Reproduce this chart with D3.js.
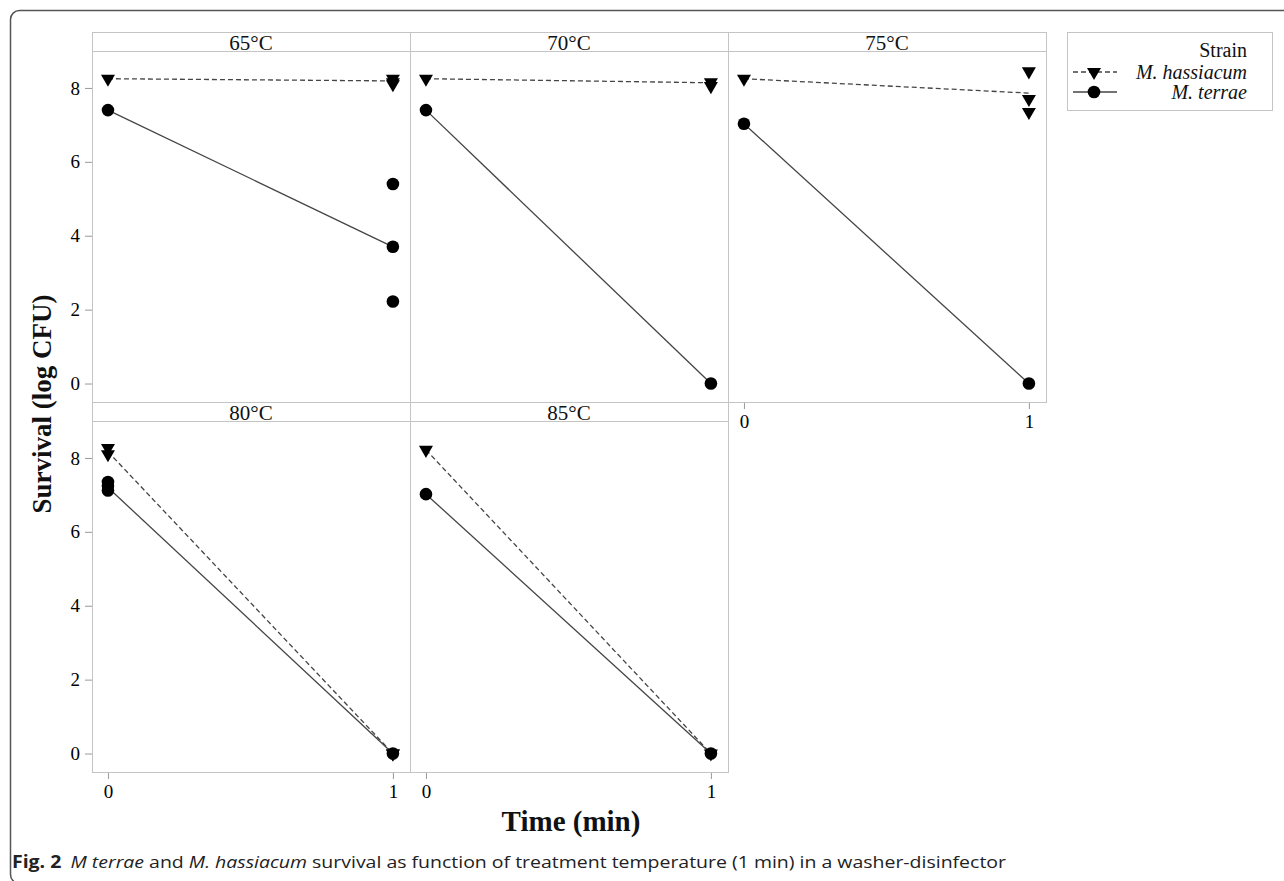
<!DOCTYPE html>
<html>
<head>
<meta charset="utf-8">
<script src="https://cdn.jsdelivr.net/npm/d3@7"></script>
<style>
  html, body { margin: 0; padding: 0; background: #fff; }
  svg { display: block; }
</style>
</head>
<body>
<svg id="chart" width="1284" height="881"></svg>
<script>
// ---------- data ----------
const temperatures = ["65°C", "70°C", "75°C", "80°C", "85°C"];
const times = [0, 1];
const yTicks = [0, 2, 4, 6, 8];
const xTicks = [0, 1];
const strains = ["M. hassiacum", "M. terrae"];

// individual observations per temperature: [time, value]
const hassiacumPoints = [
  [[0, 8.25], [1, 8.25], [1, 8.15], [1, 8.1]],           // 65
  [[0, 8.25], [1, 8.15], [1, 8.05]],                     // 70
  [[0, 8.25], [1, 8.45], [1, 7.7], [1, 7.35]],           // 75
  [[0, 8.27], [0, 8.1], [1, 0], [1, 0]],                 // 80
  [[0, 8.22], [1, 0]]                                    // 85
];
const terraePoints = [
  [[0, 7.4], [1, 5.4], [1, 3.7], [1, 2.22]],             // 65
  [[0, 7.4], [1, 0]],                                    // 70
  [[0, 7.03], [1, 0]],                                   // 75
  [[0, 7.35], [0, 7.25], [0, 7.12], [1, 0]],             // 80
  [[0, 7.02], [1, 0]]                                    // 85
];
// connecting line values (t=0, t=1) per temperature
const hassiacumLine = [[8.25, 8.19], [8.25, 8.14], [8.25, 7.86], [8.17, 0], [8.22, 0]];
const terraeLine = [[7.4, 3.7], [7.4, 0], [7.03, 0], [7.2, 0], [7.02, 0]];

// ---------- layout ----------
const svg = d3.select("#chart");
const font = "'Liberation Serif', 'Times New Roman', serif";
const panelLeft0 = 92, panelW = 318, stripH = 19, plotH = 351;
const rowTops = [32, 402];
const gridColor = "#c4c4c4";
const ink = "#111";

// outer frame
svg.append("rect")
  .attr("x", 10.5).attr("y", 10.5).attr("width", 1320).attr("height", 873)
  .attr("rx", 9).attr("fill", "none").attr("stroke", "#555").attr("stroke-width", 1.5);

const triangle = d3.symbol().type(d3.symbolTriangle).size(85);

temperatures.forEach((temp, i) => {
  const col = i % 3, row = Math.floor(i / 3);
  const left = panelLeft0 + col * panelW;
  const stripTop = rowTops[row];
  const top = stripTop + stripH;
  const bottom = top + plotH;

  const x = d3.scaleLinear().domain([-0.056, 1.06]).range([left, left + panelW]);
  const y = d3.scaleLinear().domain([-0.5, 9]).range([bottom, top]);

  const g = svg.append("g");

  // strip
  g.append("rect").attr("x", left + 0.5).attr("y", stripTop + 0.5)
    .attr("width", panelW).attr("height", stripH)
    .attr("fill", "#fff").attr("stroke", gridColor);
  g.append("text").attr("x", left + panelW / 2).attr("y", stripTop + 18)
    .attr("text-anchor", "middle").attr("font-family", font).attr("font-size", 21)
    .attr("fill", ink).text(temp);

  // panel border
  g.append("rect").attr("x", left + 0.5).attr("y", top + 0.5)
    .attr("width", panelW).attr("height", plotH)
    .attr("fill", "none").attr("stroke", gridColor);

  // y axis (left column only)
  if (col === 0) {
    const ya = g.append("g").attr("transform", `translate(${left},0)`)
      .call(d3.axisLeft(y).tickValues(yTicks).tickSize(7).tickPadding(5).tickFormat(d3.format("d")));
    ya.select(".domain").remove();
    ya.selectAll("line").attr("stroke", "#999");
    ya.selectAll("text").attr("font-family", font).attr("font-size", 19).attr("fill", "#000");
  }
  // x axis (bottom of each column)
  if (row === 1 || col === 2) {
    const xa = g.append("g").attr("transform", `translate(0,${bottom + 1})`)
      .call(d3.axisBottom(x).tickValues(xTicks).tickSize(6).tickPadding(6).tickFormat(d3.format("d")));
    xa.select(".domain").remove();
    xa.selectAll("line").attr("stroke", "#999");
    xa.selectAll("text").attr("font-family", font).attr("font-size", 19).attr("fill", "#000");
  }

  // lines
  const line = d3.line().x((d, k) => x(times[k])).y(d => y(d));
  g.append("path").datum(hassiacumLine[i]).attr("d", line)
    .attr("fill", "none").attr("stroke", "#444").attr("stroke-width", 1.3)
    .attr("stroke-dasharray", "5,3");
  g.append("path").datum(terraeLine[i]).attr("d", line)
    .attr("fill", "none").attr("stroke", "#444").attr("stroke-width", 1.3);

  // points
  g.selectAll(".tri").data(hassiacumPoints[i]).join("path")
    .attr("transform", d => `translate(${x(d[0])},${y(d[1])}) rotate(180)`)
    .attr("d", triangle).attr("fill", "#000");
  g.selectAll(".dot").data(terraePoints[i]).join("circle")
    .attr("cx", d => x(d[0])).attr("cy", d => y(d[1])).attr("r", 6.3).attr("fill", "#000");
});

// axis titles
svg.append("text")
  .attr("transform", "translate(51,404) rotate(-90)")
  .attr("text-anchor", "middle").attr("font-family", font).attr("font-weight", "bold")
  .attr("font-size", 27).attr("fill", ink).text("Survival (log CFU)");
svg.append("text")
  .attr("x", 571).attr("y", 831)
  .attr("text-anchor", "middle").attr("font-family", font).attr("font-weight", "bold")
  .attr("font-size", 29).attr("fill", ink).text("Time (min)");

// legend
const lg = svg.append("g");
lg.append("rect").attr("x", 1067.5).attr("y", 32.5).attr("width", 205).attr("height", 78)
  .attr("fill", "#fff").attr("stroke", gridColor);
lg.append("text").attr("x", 1247).attr("y", 57).attr("text-anchor", "end")
  .attr("font-family", font).attr("font-size", 20).attr("fill", ink).text("Strain");
const legendRows = [{ y: 72, dash: "5,3" }, { y: 92, dash: null }];
legendRows.forEach((r, k) => {
  const p = lg.append("line").attr("x1", 1073).attr("x2", 1117).attr("y1", r.y).attr("y2", r.y)
    .attr("stroke", "#444").attr("stroke-width", 1.3);
  if (r.dash) p.attr("stroke-dasharray", r.dash);
  if (k === 0) {
    lg.append("path").attr("transform", `translate(1094,${r.y}) rotate(180)`)
      .attr("d", triangle).attr("fill", "#000");
  } else {
    lg.append("circle").attr("cx", 1094).attr("cy", r.y).attr("r", 6.3).attr("fill", "#000");
  }
  lg.append("text").attr("x", 1247).attr("y", r.y + 7).attr("text-anchor", "end")
    .attr("font-family", font).attr("font-style", "italic").attr("font-size", 20)
    .attr("fill", ink).text(strains[k]);
});

// caption
const cap = svg.append("text").attr("x", 12).attr("y", 868)
  .attr("font-family", "'Open Sans', 'Noto Sans', sans-serif").attr("font-size", 17).attr("fill", "#222");
cap.append("tspan").attr("font-weight", "bold").text("Fig. 2");
cap.append("tspan").attr("dx", 8).attr("font-style", "italic").text("M terrae");
cap.append("tspan").text(" and ");
cap.append("tspan").attr("font-style", "italic").text("M. hassiacum");
cap.append("tspan").text(" survival as function of treatment temperature (1 min) in a washer-disinfector");
const capLen = cap.node().getComputedTextLength();
if (capLen > 0) cap.attr("textLength", 994).attr("lengthAdjust", "spacingAndGlyphs");
</script>
</body>
</html>
